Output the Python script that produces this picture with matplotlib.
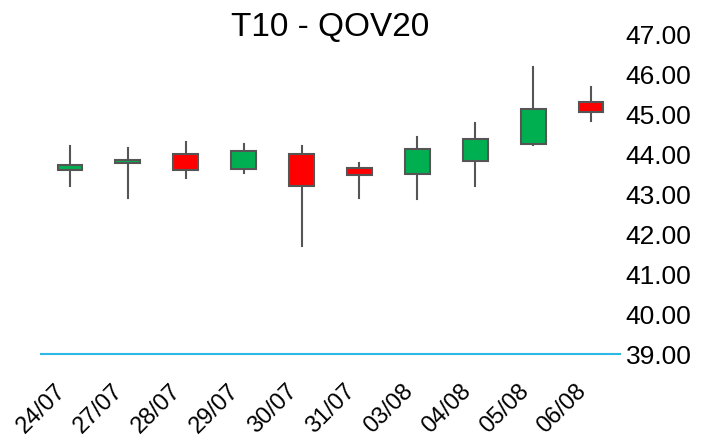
import matplotlib
matplotlib.use('Agg')
import matplotlib.pyplot as plt
from matplotlib.patches import Rectangle

plt.rcParams['font.family'] = ['Liberation Sans', 'DejaVu Sans']

dates = ['24/07', '27/07', '28/07', '29/07', '30/07', '31/07', '03/08', '04/08', '05/08', '06/08']
opens = [43.60, 43.78, 44.00, 43.63, 44.00, 43.65, 43.51, 43.82, 44.25, 45.29]
closes = [43.73, 43.86, 43.60, 44.08, 43.20, 43.47, 44.12, 44.38, 45.12, 45.04]
highs = [44.21, 44.16, 44.29, 44.25, 44.21, 43.78, 44.42, 44.77, 46.17, 45.68]
lows = [43.21, 42.90, 43.39, 43.52, 41.69, 42.91, 42.87, 43.21, 44.22, 44.82]

fig = plt.figure(figsize=(7.06, 4.39), dpi=100)
ax = fig.add_axes([41 / 706, 84 / 439, 579 / 706, 320 / 439])

w = 0.43
for i in range(len(dates)):
    o, c, h, l = opens[i], closes[i], highs[i], lows[i]
    col = '#00b050' if c >= o else '#ff0000'
    ax.plot([i, i], [l, h], color='#555555', lw=1.5, zorder=1)
    ax.add_patch(Rectangle((i - w / 2, min(o, c)), w, abs(c - o),
                           facecolor=col, edgecolor='#555555', lw=1.5, zorder=2))

ax.set_xlim(-0.5, len(dates) - 0.5)
ax.set_ylim(39, 47)
ax.set_yticks(range(39, 48))
ax.set_yticklabels([f'{v:.2f}' for v in range(39, 48)])
ax.yaxis.tick_right()
ax.set_xticks(range(len(dates)))
ax.set_xticklabels(dates, rotation=45, ha='right')
ax.tick_params(axis='both', length=0, colors='black')
ax.tick_params(axis='x', pad=18, labelsize=17)
ax.tick_params(axis='y', pad=4, labelsize=19)

for s in ['top', 'left', 'right']:
    ax.spines[s].set_visible(False)
ax.spines['bottom'].set_color('#2eb8e6')
ax.spines['bottom'].set_linewidth(1.5)

fig.text(330 / 706, 1 - 28 / 439, 'T10 - QOV20', fontsize=24, ha='center', va='center')

plt.savefig('out.png', dpi=100)
